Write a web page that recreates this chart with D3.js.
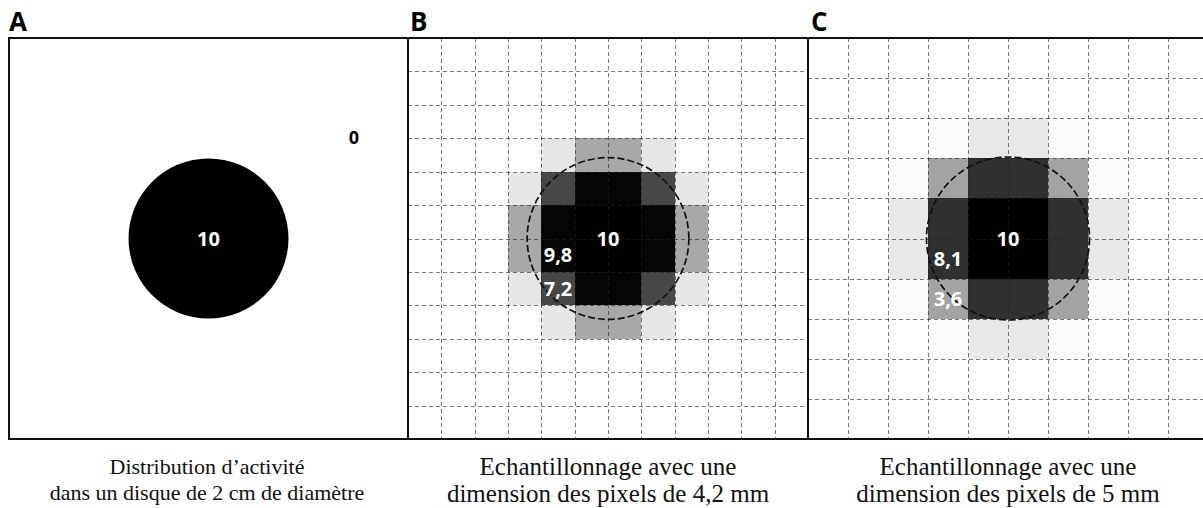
<!DOCTYPE html>
<html><head><meta charset="utf-8">
<script src="https://cdn.jsdelivr.net/npm/d3@7"></script>
<style>html,body{margin:0;padding:0;background:#fff;}svg{display:block;}</style>
</head><body>
<svg id="chart" width="1203" height="508"></svg>
<script>
// ---------- data ----------
const panelLetters = ["A", "B", "C"];
const captionsLine1 = ["Distribution d\u2019activité", "Echantillonnage avec une", "Echantillonnage avec une"];
const captionsLine2 = ["dans un disque de 2 cm de diamètre", "dimension des pixels de 4,2 mm", "dimension des pixels de 5 mm"];
const discDiameterMm = 20;        // disc of 2 cm
const discActivity = 10;          // activity inside the disc
const backgroundActivity = 0;     // activity outside
const pixelSizeMm = [4.2, 5];     // panels B and C
const gridCells = [12, 10];       // number of pixels across each sampled panel
// sampled values (central block of each grid)
const valuesB = [
  [0,   1.0, 3.4, 3.4, 1.0, 0  ],
  [1.0, 7.2, 9.8, 9.8, 7.2, 1.0],
  [3.4, 9.8, 10,  10,  9.8, 3.4],
  [3.4, 9.8, 10,  10,  9.8, 3.4],
  [1.0, 7.2, 9.8, 9.8, 7.2, 1.0],
  [0,   1.0, 3.4, 3.4, 1.0, 0  ]
];
const valuesC = [
  [0,    0.15, 0.9, 0.9, 0.15, 0   ],
  [0.15, 3.6,  8.1, 8.1, 3.6,  0.15],
  [0.9,  8.1,  10,  10,  8.1,  0.9 ],
  [0.9,  8.1,  10,  10,  8.1,  0.9 ],
  [0.15, 3.6,  8.1, 8.1, 3.6,  0.15],
  [0,    0.15, 0.9, 0.9, 0.15, 0   ]
];
// cells whose value is printed: [row, col] in the central block
const labelledB = [[3, 1], [4, 1]];
const labelledC = [[3, 1], [4, 1]];

// ---------- layout ----------
const svg = d3.select("#chart");
const yTop = 38, yBottom = 439;
const panelX = [9, 408, 808];
const panelW = 400;
const fmt = d3.formatLocale({decimal: ",", thousands: " ", grouping: [3], currency: ["", ""]});
const fmtVal = v => Number.isInteger(v) ? String(v) : fmt.format(".1f")(v);
const gray = d3.scaleLinear().domain([0, 10]).range(["#ffffff", "#000000"]);
const numFont = "'Open Sans', sans-serif";
const serif = "'Liberation Serif', 'Times New Roman', Times, serif";
const crisp = v => Math.round(v) + 0.5;

// ---------- Panel A ----------
{
  const mmA = d3.scaleLinear().domain([0, 50]).range([0, panelW]);
  const cx = panelX[0] + (panelX[1] - panelX[0]) / 2;
  const cy = (yTop + yBottom) / 2;
  svg.append("circle").attr("cx", cx).attr("cy", cy)
    .attr("r", mmA(discDiameterMm / 2)).attr("fill", gray(discActivity));
  svg.append("text").attr("x", cx).attr("y", cy).attr("dy", "0.35em")
    .attr("text-anchor", "middle").attr("font-family", numFont).attr("font-weight", 700)
    .attr("font-size", 20).attr("fill", "#fff").text(fmtVal(discActivity));
  svg.append("text").attr("x", 354).attr("y", 138).attr("dy", "0.35em")
    .attr("text-anchor", "middle").attr("font-family", numFont).attr("font-weight", 700)
    .attr("font-size", 18).attr("fill", "#000").text(fmtVal(backgroundActivity));
}

// ---------- Sampled panels ----------
function sampledPanel(idx, n, values, labelled, pxMm) {
  const x0 = panelX[idx + 1];
  const x = d3.scaleLinear().domain([0, n]).range([x0, x0 + panelW]);
  const y = d3.scaleLinear().domain([0, n]).range([yTop, yBottom]);
  const off = (n - values.length) / 2;
  const g = svg.append("g");
  const cells = [];
  values.forEach((row, r) => row.forEach((v, c) => cells.push({r: r + off, c: c + off, v})));
  g.selectAll("rect.cell").data(cells).join("rect")
    .attr("x", d => Math.round(x(d.c))).attr("y", d => Math.round(y(d.r)))
    .attr("width", d => Math.round(x(d.c + 1)) - Math.round(x(d.c)))
    .attr("height", d => Math.round(y(d.r + 1)) - Math.round(y(d.r)))
    .attr("fill", d => gray(d.v));
  const ticks = d3.range(1, n);
  g.selectAll("line.v").data(ticks).join("line")
    .attr("x1", d => crisp(x(d))).attr("x2", d => crisp(x(d))).attr("y1", yTop).attr("y2", yBottom)
    .attr("stroke", "#222").attr("stroke-opacity", 0.6).attr("stroke-width", 1)
    .attr("stroke-dasharray", "4,3");
  g.selectAll("line.h").data(ticks).join("line")
    .attr("y1", d => crisp(y(d))).attr("y2", d => crisp(y(d))).attr("x1", x0).attr("x2", x0 + panelW)
    .attr("stroke", "#222").attr("stroke-opacity", 0.6).attr("stroke-width", 1)
    .attr("stroke-dasharray", "4,3");
  // disc outline (dashed)
  const pxPerMm = (x(1) - x(0)) / pxMm;
  g.append("circle").attr("cx", x(n / 2)).attr("cy", y(n / 2))
    .attr("r", pxPerMm * discDiameterMm / 2 + 1.5)
    .attr("fill", "none").attr("stroke", "#111").attr("stroke-width", 1.7)
    .attr("stroke-dasharray", "7,3");
  // labels
  g.append("text").attr("x", x(n / 2)).attr("y", y(n / 2)).attr("dy", "0.35em")
    .attr("text-anchor", "middle").attr("font-family", numFont).attr("font-weight", 700)
    .attr("font-size", 20).attr("fill", "#fff").text(fmtVal(discActivity));
  labelled.forEach(([r, c]) => {
    g.append("text").attr("x", x(c + off + 0.5)).attr("y", y(r + off + 0.5)).attr("dy", "0.35em")
      .attr("text-anchor", "middle").attr("font-family", numFont).attr("font-weight", 700)
      .attr("font-size", 20).attr("fill", "#fff").text(fmtVal(values[r][c]));
  });
}
sampledPanel(0, gridCells[0], valuesB, labelledB, pixelSizeMm[0]);
sampledPanel(1, gridCells[1], valuesC, labelledC, pixelSizeMm[1]);

// ---------- frames ----------
svg.append("rect").attr("x", 9).attr("y", yTop).attr("width", 1203).attr("height", yBottom - yTop)
  .attr("fill", "none").attr("stroke", "#111").attr("stroke-width", 2);
[408, 808].forEach(px => svg.append("line").attr("x1", px).attr("x2", px)
  .attr("y1", yTop).attr("y2", yBottom).attr("stroke", "#111").attr("stroke-width", 2));

// ---------- letters ----------
svg.selectAll("text.letter").data(panelLetters).join("text")
  .attr("x", (d, i) => [9, 410, 811][i]).attr("y", 31)
  .attr("font-family", numFont).attr("font-weight", 700).attr("font-size", 26)
  .attr("fill", "#000").text(d => d);

// ---------- captions ----------
const capCenters = [207, 608, 1008];
const capSize = [22, 25, 25];
const capY1 = [474, 475, 475], capY2 = [500, 502, 502];
captionsLine1.forEach((t, i) => {
  svg.append("text").attr("x", capCenters[i]).attr("y", capY1[i]).attr("text-anchor", "middle")
    .attr("font-family", serif).attr("font-size", capSize[i])
    .attr("fill", "#111").text(t);
});
captionsLine2.forEach((t, i) => {
  svg.append("text").attr("x", capCenters[i]).attr("y", capY2[i]).attr("text-anchor", "middle")
    .attr("font-family", serif).attr("font-size", capSize[i])
    .attr("fill", "#111").text(t);
});
</script>
</body></html>
